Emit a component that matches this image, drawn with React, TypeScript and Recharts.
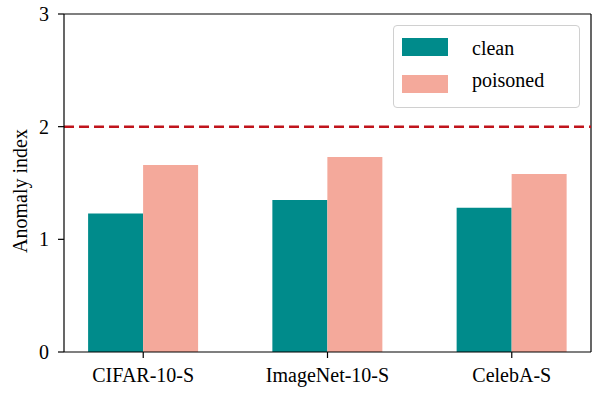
import React from 'react';
import {
    BarChart,
    Bar,
    XAxis,
    YAxis,
    ReferenceLine,
    Legend,
} from 'recharts';

const categories = ['CIFAR-10-S', 'ImageNet-10-S', 'CelebA-S'];
const cleanValues = [1.23, 1.35, 1.28];
const poisonedValues = [1.66, 1.73, 1.58];
const yTicks = [0, 1, 2, 3];
const threshold = 2;
const xDomain: [number, number] = [-0.43, 2.43];

const data = categories.map((name, i) => ({
    x: i,
    name,
    clean: cleanValues[i],
    poisoned: poisonedValues[i],
}));

const FONT = 'Liberation Serif';
const tickStyle = { fontSize: 20, fill: '#000', fontFamily: FONT };

const LegendBox = ({ payload }: any) => {
    const items = payload || [];
    return (
        <div
            style={{
                position: 'relative',
                width: 187,
                height: 83,
                boxSizing: 'border-box',
                border: '1px solid #d0d0d0',
                borderRadius: 4,
                background: 'rgba(255,255,255,0.8)',
                fontFamily: FONT,
                fontSize: 20,
                color: '#000',
            }}
        >
            {items.map((item: any, i: number) => (
                <React.Fragment key={item.value}>
                    <div
                        style={{
                            position: 'absolute',
                            left: 8,
                            top: 12 + i * 37,
                            width: 46,
                            height: 18,
                            background: item.color,
                        }}
                    />
                    <div
                        style={{
                            position: 'absolute',
                            left: 78,
                            top: 10 + i * 32,
                            lineHeight: '24px',
                            whiteSpace: 'nowrap',
                        }}
                    >
                        {item.value}
                    </div>
                </React.Fragment>
            ))}
        </div>
    );
};

export default function App() {
    return (
        <div style={{ position: 'absolute', left: 0, top: 0, background: '#fff', fontFamily: FONT }}>
            <BarChart
                width={598}
                height={397}
                data={data}
                margin={{ top: 14, right: 7, left: 0, bottom: 0 }}
                barGap={0}
                style={{ fontFamily: FONT }}
            >
                <XAxis
                    dataKey="x"
                    type="number"
                    domain={xDomain}
                    allowDataOverflow
                    ticks={[0, 1, 2]}
                    tickFormatter={(v) => categories[v] ?? ''}
                    height={45}
                    tick={tickStyle}
                    tickSize={6}
                    tickMargin={10}
                    axisLine={{ stroke: '#000', strokeWidth: 1.2 }}
                    tickLine={{ stroke: '#000', strokeWidth: 1.2 }}
                />
                <YAxis
                    domain={[0, 3]}
                    ticks={yTicks}
                    width={64}
                    tick={tickStyle}
                    tickSize={6}
                    tickMargin={9}
                    axisLine={{ stroke: '#000', strokeWidth: 1.2 }}
                    tickLine={{ stroke: '#000', strokeWidth: 1.2 }}
                    label={{
                        value: 'Anomaly index',
                        angle: -90,
                        position: 'center',
                        dx: -12,
                        dy: 8,
                        style: { fontSize: 20, fill: '#000', fontFamily: FONT },
                    }}
                />
                {/* top and right spines */}
                <ReferenceLine y={3} stroke="#000" strokeWidth={1.2} ifOverflow="visible" />
                <ReferenceLine x={xDomain[1]} stroke="#000" strokeWidth={1.2} ifOverflow="visible" />
                <ReferenceLine
                    y={threshold}
                    stroke="#C0141C"
                    strokeWidth={2.5}
                    strokeDasharray="10 5"
                />
                <Bar dataKey="clean" name="clean" fill="#008B8B" barSize={55} isAnimationActive={false} />
                <Bar dataKey="poisoned" name="poisoned" fill="#F4A99B" barSize={55} isAnimationActive={false} />
                <Legend
                    layout="vertical"
                    align="center"
                    verticalAlign="middle"
                    content={<LegendBox />}
                    wrapperStyle={{ left: 393, top: 25, width: 187, height: 83 }}
                />
            </BarChart>
        </div>
    );
}
